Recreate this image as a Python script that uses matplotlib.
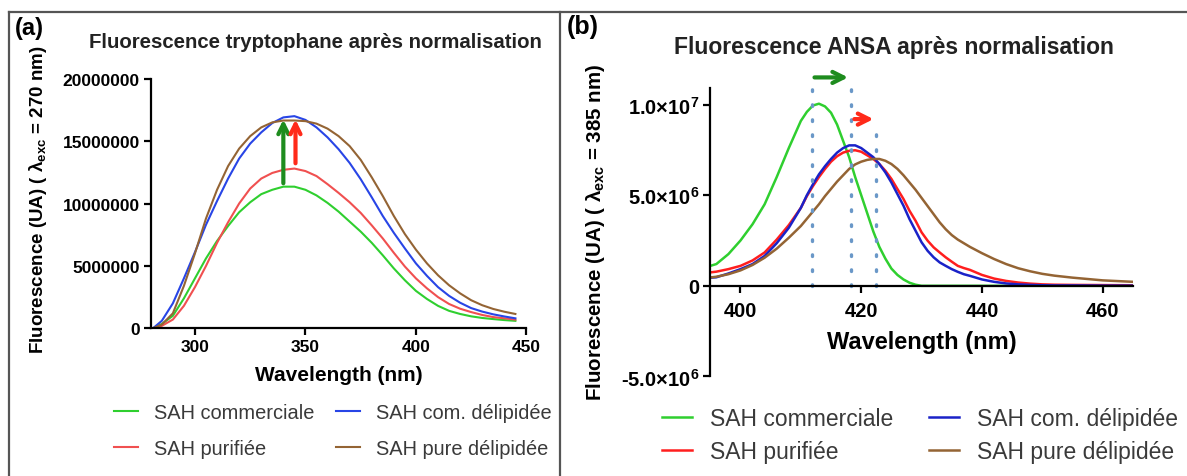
import matplotlib
matplotlib.use('Agg')
import matplotlib.pyplot as plt
from matplotlib.lines import Line2D

plt.rcParams['font.family'] = ['Liberation Sans', 'DejaVu Sans']
plt.rcParams['mathtext.fontset'] = 'custom'
plt.rcParams['mathtext.rm'] = 'Liberation Sans'
plt.rcParams['mathtext.bf'] = 'Liberation Sans:bold'

# ---- panel (a): tryptophane, values in millions ----
wl_a = [281, 285, 290, 295, 300, 305, 310, 315, 320, 325, 330, 335, 340, 345, 350,
        355, 360, 365, 370, 375, 380, 385, 390, 395, 400, 405, 410, 415, 420, 425,
        430, 435, 440, 445]
comm_a = [0, 0.35, 1.0, 2.4, 4.0, 5.6, 7.0, 8.2, 9.3, 10.1, 10.75, 11.1, 11.35, 11.35, 11.1,
          10.65, 10.05, 9.35, 8.55, 7.75, 6.85, 5.85, 4.8, 3.85, 3.0, 2.35, 1.8, 1.4, 1.15, 0.96,
          0.83, 0.74, 0.66, 0.6]
puri_a = [0, 0.2, 0.7, 1.8, 3.3, 5.0, 6.85, 8.5, 10.0, 11.2, 12.0, 12.45, 12.7, 12.8, 12.6,
          12.2, 11.55, 10.85, 10.1, 9.25, 8.25, 7.2, 6.05, 4.95, 4.0, 3.2, 2.5, 1.95, 1.57, 1.3,
          1.07, 0.9, 0.8, 0.7]
comdel_a = [0, 0.6, 2.0, 4.0, 6.1, 8.3, 10.2, 12.0, 13.6, 14.8, 15.7, 16.45, 16.9, 17.0, 16.7,
            16.1, 15.3, 14.35, 13.25, 11.95, 10.5, 9.0, 7.65, 6.4, 5.2, 4.2, 3.3, 2.6, 2.05, 1.62,
            1.34, 1.12, 0.95, 0.8]
puredel_a = [0, 0.3, 1.2, 3.4, 6.0, 8.8, 11.1, 13.0, 14.4, 15.4, 16.1, 16.5, 16.65, 16.65, 16.6,
             16.4, 16.0, 15.4, 14.6, 13.5, 12.1, 10.6, 9.0, 7.55, 6.3, 5.2, 4.25, 3.45, 2.8, 2.25,
             1.85, 1.55, 1.33, 1.15]

# ---- panel (b): ANSA, values in millions ----
wl_b = [395, 396, 398, 400, 402, 404, 406, 408, 410, 411, 412, 413, 414, 415, 416, 417, 418,
        419, 420, 421, 422, 423, 424, 425, 426, 427, 428, 429, 430, 431, 432, 433, 434, 435,
        436, 437, 438, 440, 442, 444, 446, 448, 450, 452, 455, 460, 465]
comm_b = [1.1, 1.2, 1.75, 2.5, 3.4, 4.5, 6.0, 7.6, 9.1, 9.6, 9.95, 10.05, 9.9, 9.55, 8.9, 8.0, 7.1,
          6.0, 5.0, 4.0, 3.0, 2.15, 1.5, 0.95, 0.6, 0.35, 0.17, 0.06, 0, 0, 0, 0, 0, 0,
          0, 0, 0, 0, 0, 0, 0, 0, 0, 0, 0, 0, 0]
puri_b = [0.74, 0.78, 0.92, 1.1, 1.4, 1.84, 2.55, 3.35, 4.3, 4.95, 5.5, 6.0, 6.45, 6.85, 7.15, 7.35, 7.45,
          7.48, 7.4, 7.2, 7.0, 6.72, 6.35, 5.9, 5.34, 4.79, 4.14, 3.59, 2.95, 2.49, 2.12, 1.84, 1.57, 1.33,
          1.1, 0.98, 0.88, 0.6, 0.4, 0.27, 0.18, 0.12, 0.08, 0.06, 0.05, 0.04, 0.03]
comdel_b = [0.45, 0.47, 0.68, 0.92, 1.2, 1.65, 2.35, 3.2, 4.3, 5.0, 5.6, 6.15, 6.6, 7.0, 7.35, 7.6, 7.75,
            7.75, 7.6, 7.35, 7.1, 6.72, 6.26, 5.7, 5.06, 4.42, 3.68, 3.04, 2.4, 1.93, 1.57, 1.29, 1.1, 0.92,
            0.77, 0.64, 0.55, 0.35, 0.22, 0.13, 0.08, 0.05, 0.03, 0.02, 0.02, 0.01, 0.01]
puredel_b = [0.46, 0.5, 0.64, 0.85, 1.15, 1.55, 2.05, 2.65, 3.3, 3.7, 4.1, 4.5, 4.95, 5.35, 5.75, 6.1, 6.45,
             6.7, 6.85, 6.95, 7.0, 7.0, 6.9, 6.72, 6.45, 6.1, 5.7, 5.3, 4.85, 4.4, 3.95, 3.5, 3.12, 2.8,
             2.55, 2.35, 2.15, 1.8, 1.48, 1.2, 0.97, 0.8, 0.66, 0.56, 0.45, 0.3, 0.22]

labels = ['SAH commerciale', 'SAH purifiée', 'SAH com. délipidée', 'SAH pure délipidée']
cols_a = ['#2fcf2f', '#f05050', '#2845e6', '#946434']
cols_b = ['#2fcf2f', '#ff1e1e', '#1a22c8', '#946434']

# shift markers
arrow_a_x = [340, 345.5]
arrow_a_from = [11.4, 13.0]
arrow_a_to = 16.95
shift_green_b = [411.8, 418.3]
shift_red_b = [418.4, 422.5]

M = 1e6

fig = plt.figure(figsize=(11.87, 4.77), dpi=100)

# frame lines around panels
for xs, ys in [([0.008, 0.008], [0.0, 0.973]), ([0.008, 1.0], [0.973, 0.973]),
               ([0.472, 0.472], [0.0, 0.973])]:
    fig.add_artist(Line2D(xs, ys, color='#555555', lw=1.6, transform=fig.transFigure))


def style_axes(ax, size):
    for s in ['top', 'right']:
        ax.spines[s].set_visible(False)
    for s in ['left', 'bottom']:
        ax.spines[s].set_linewidth(1.6)
    ax.tick_params(width=1.6, length=5, labelsize=size, pad=3)
    for t in ax.get_xticklabels() + ax.get_yticklabels():
        t.set_fontweight('bold')


# ---------- (a) ----------
ax1 = fig.add_axes([0.127, 0.3096, 0.3165, 0.5233])
for ys, c in zip([comm_a, puri_a, comdel_a, puredel_a], cols_a):
    ax1.plot(wl_a, [v * M for v in ys], color=c, lw=1.5)
ax1.set_xlim(280, 450)
ax1.set_ylim(0, 20e6)
ax1.set_xticks([300, 350, 400, 450])
ax1.set_yticks([0, 5e6, 10e6, 15e6, 20e6])
ax1.set_yticklabels(['0', '5000000', '10000000', '15000000', '20000000'])
style_axes(ax1, 12.5)
ax1.text(0.5, -0.183, 'Wavelength (nm)', transform=ax1.transAxes, ha='center',
         va='center', fontsize=15, fontweight='bold')
ax1.set_ylabel('Fluorescence (UA) ( λ$_{\\mathbf{exc}}$ = 270 nm)', fontsize=13.5,
               fontweight='bold')
ax1.yaxis.set_label_coords(-0.272, 0.518)
for x, y0, c in zip(arrow_a_x, arrow_a_from, ['#1e8c1e', '#ff2a1a']):
    ax1.annotate('', xy=(x, arrow_a_to * M), xytext=(x, y0 * M),
                 arrowprops=dict(arrowstyle='->', color=c, lw=3, mutation_scale=18))
ax1.legend(labels=labels, handles=ax1.lines, ncol=2, frameon=False, fontsize=14.4,
           loc='center', bbox_to_anchor=(0.2805, 0.0964), bbox_transform=fig.transFigure,
           handlelength=1.2, handletextpad=0.8, columnspacing=1.1, labelspacing=0.85,
           labelcolor='#3a3a3a')

# ---------- (b) ----------
ax2 = fig.add_axes([0.5984, 0.2088, 0.356, 0.604])
lines_b = []
for ys, c in zip([comm_b, puri_b, comdel_b, puredel_b], cols_b):
    ln, = ax2.plot(wl_b, [v * M for v in ys], color=c, lw=1.8)
    lines_b.append(ln)
ax2.set_xlim(395, 465)
ax2.set_ylim(-5e6, 1.09e7)
ax2.spines['bottom'].set_position(('data', 0))
ax2.set_xticks([400, 420, 440, 460])
ax2.set_yticks([-5e6, 0, 5e6, 1e7])
ax2.set_yticklabels(['-5.0×10$^{\\mathbf{6}}$', '0', '5.0×10$^{\\mathbf{6}}$',
                     '1.0×10$^{\\mathbf{7}}$'])
style_axes(ax2, 14.5)
ax2.tick_params(axis='x', pad=6)
ax2.text(0.5, 0.121, 'Wavelength (nm)', transform=ax2.transAxes, ha='center',
         va='center', fontsize=17, fontweight='bold')
ax2.set_ylabel('Fluorescence (UA) ( λ$_{\\mathbf{exc}}$ = 385 nm)', fontsize=14.8,
               fontweight='bold')
ax2.yaxis.set_label_coords(-0.244, 0.505)
dot_col = '#6a98c8'
for x in shift_green_b:
    ax2.plot([x, x], [0, 11.3e6], color=dot_col, lw=2.4, ls=(0, (0.5, 4)),
             dash_capstyle='round', clip_on=False)
ax2.plot([shift_red_b[1]] * 2, [0, 8.6e6], color=dot_col, lw=2.4, ls=(0, (0.5, 4)),
         dash_capstyle='round', clip_on=False)
ax2.annotate('', xy=(shift_green_b[1], 11.5e6), xytext=(shift_green_b[0], 11.5e6),
             arrowprops=dict(arrowstyle='->', color='#1e8c1e', lw=3, mutation_scale=20),
             annotation_clip=False)
ax2.annotate('', xy=(shift_red_b[1], 9.2e6), xytext=(shift_red_b[0], 9.2e6),
             arrowprops=dict(arrowstyle='->', color='#ff2a1a', lw=3, mutation_scale=20),
             annotation_clip=False)
ax2.legend(handles=lines_b, labels=labels, ncol=2, frameon=False, fontsize=16.5,
           loc='center', bbox_to_anchor=(0.775, 0.086), bbox_transform=fig.transFigure,
           handlelength=1.3, handletextpad=0.8, columnspacing=1.55, labelspacing=0.4,
           labelcolor='#3a3a3a')

# titles and panel letters
fig.text(0.2655, 0.91, 'Fluorescence tryptophane après normalisation', ha='center',
         va='center', fontsize=14.7, fontweight='bold', color='#222222')
fig.text(0.753, 0.9, 'Fluorescence ANSA après normalisation', ha='center',
         va='center', fontsize=16.5, fontweight='bold', color='#222222')
fig.text(0.0245, 0.94, '(a)', ha='center', va='center', fontsize=17, fontweight='bold')
fig.text(0.491, 0.943, '(b)', ha='center', va='center', fontsize=18, fontweight='bold')

fig.savefig('out.png', dpi=100)
